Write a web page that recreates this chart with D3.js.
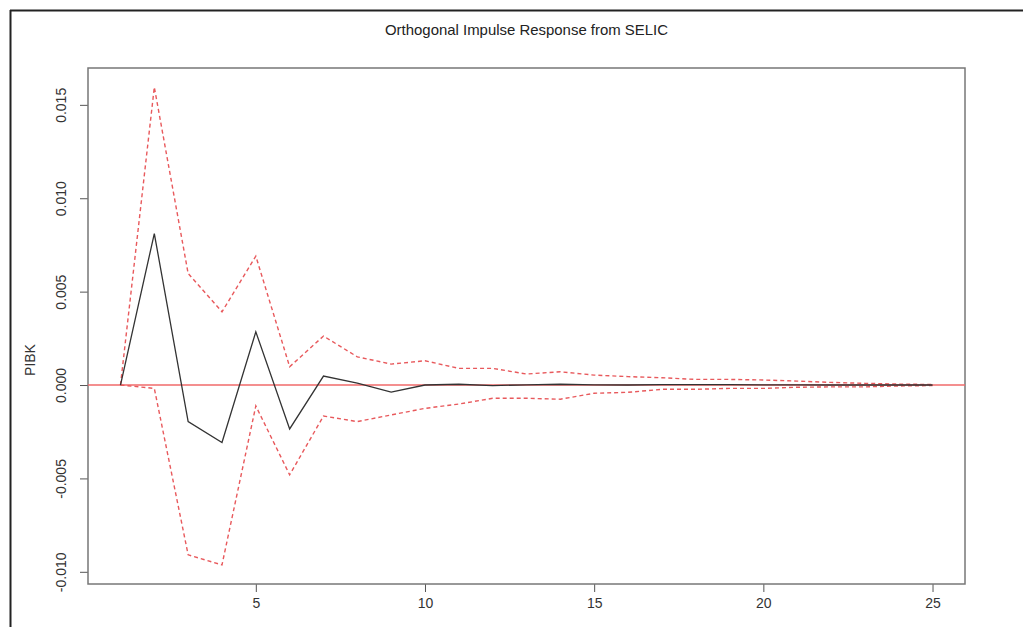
<!DOCTYPE html>
<html>
<head>
<meta charset="utf-8">
<script src="https://cdn.jsdelivr.net/npm/d3@7"></script>
<style>
  body { margin: 0; background: #fff; }
  svg { display: block; font-family: "Liberation Sans", Arial, sans-serif; }
</style>
</head>
<body>
<svg id="viz" width="1023" height="627"></svg>
<script>
// ==== Data ====
const steps = d3.range(1, 26);
const irf = [0, 0.00811, -0.00196, -0.00308, 0.00285, -0.00235, 0.00048, 0.0001, -0.00038, 0,
  0.00004, -0.00003, 0.00001, 0.00004, 0.00001, 0, 0.00002, 0.00002, 0.00002, 0.00001,
  0.00001, 0, 0, 0, 0];
const upper = [0, 0.01595, 0.00597, 0.00392, 0.0069, 0.00098, 0.00262, 0.00151, 0.00112, 0.0013,
  0.00089, 0.00089, 0.00059, 0.00071, 0.00053, 0.00045, 0.00039, 0.0003, 0.0003, 0.00027,
  0.00021, 0.00014, 0.00009, 0.00005, 0.00003];
const lower = [0, -0.00018, -0.00909, -0.00963, -0.00112, -0.00481, -0.00166, -0.00196, -0.0016, -0.00125,
  -0.00102, -0.00071, -0.00071, -0.00076, -0.00044, -0.00039, -0.00023, -0.00023, -0.00018, -0.00018,
  -0.00012, -0.0001, -0.0001, -0.00005, -0.00003];
const xTicks = [5, 10, 15, 20, 25];
const yTicks = [-0.010, -0.005, 0.000, 0.005, 0.010, 0.015];
const title = "Orthogonal Impulse Response from SELIC";
const yLabel = "PIBK";

// ==== Layout ====
const svg = d3.select("#viz");
const box = { left: 88, right: 965, top: 68, bottom: 584 };

// R-style 4% padding on both axes
const xPad = (25 - 1) * 0.04;
const x = d3.scaleLinear().domain([1 - xPad, 25 + xPad]).range([box.left, box.right]);
const yMin = d3.min(lower), yMax = d3.max(upper);
const yPad = (yMax - yMin) * 0.04;
const y = d3.scaleLinear().domain([yMin - yPad, yMax + yPad]).range([box.bottom, box.top]);

// outer frame (top and left edges only visible)
svg.append("line").attr("x1", 10).attr("x2", 1023).attr("y1", 10.5).attr("y2", 10.5)
  .attr("stroke", "#222").attr("stroke-width", 2);
svg.append("line").attr("x1", 10.5).attr("x2", 10.5).attr("y1", 10).attr("y2", 627)
  .attr("stroke", "#222").attr("stroke-width", 2);

// title
svg.append("text")
  .attr("x", (box.left + box.right) / 2).attr("y", 35)
  .attr("text-anchor", "middle").attr("font-size", 15).attr("fill", "#222")
  .attr("textLength", 283).attr("lengthAdjust", "spacingAndGlyphs")
  .text(title);

// axes
const xAxis = svg.append("g")
  .attr("transform", `translate(0,${box.bottom})`)
  .call(d3.axisBottom(x).tickValues(xTicks).tickSize(8).tickSizeOuter(0).tickPadding(6));
xAxis.select(".domain").remove();
xAxis.selectAll("text").attr("font-size", 14).attr("fill", "#333");
xAxis.selectAll("line").attr("stroke", "#555");

// R prints a plain hyphen for negatives
const fmt = d => d3.format(".3f")(d).replace("\u2212", "-");
const yAxis = svg.append("g")
  .attr("transform", `translate(${box.left},0)`)
  .call(d3.axisLeft(y).tickValues(yTicks).tickSize(8).tickSizeOuter(0).tickFormat(fmt));
yAxis.select(".domain").remove();
yAxis.selectAll("line").attr("stroke", "#555");
yAxis.selectAll("text")
  .attr("font-size", 14).attr("fill", "#333")
  .attr("text-anchor", "middle")
  .attr("x", null).attr("dy", null)
  .attr("transform", "translate(-22,0) rotate(-90)");

// y label
svg.append("text")
  .attr("transform", `translate(35,360) rotate(-90)`)
  .attr("text-anchor", "middle").attr("font-size", 14).attr("fill", "#333")
  .text(yLabel);

// plot box
svg.append("rect")
  .attr("x", box.left).attr("y", box.top)
  .attr("width", box.right - box.left).attr("height", box.bottom - box.top)
  .attr("fill", "none").attr("stroke", "#777").attr("stroke-width", 1.5);

// zero line
svg.append("line")
  .attr("x1", box.left).attr("x2", box.right).attr("y1", y(0)).attr("y2", y(0))
  .attr("stroke", "#f06a6a").attr("stroke-width", 1.5);

const line = d3.line().x((d, i) => x(steps[i])).y(d => y(d));

// confidence bands
for (const band of [upper, lower]) {
  svg.append("path").datum(band)
    .attr("d", line).attr("fill", "none")
    .attr("stroke", "#e8595c").attr("stroke-width", 1.4)
    .attr("stroke-dasharray", "4,3");
}

// impulse response
svg.append("path").datum(irf)
  .attr("d", line).attr("fill", "none")
  .attr("stroke", "#333").attr("stroke-width", 1.3);
</script>
</body>
</html>
